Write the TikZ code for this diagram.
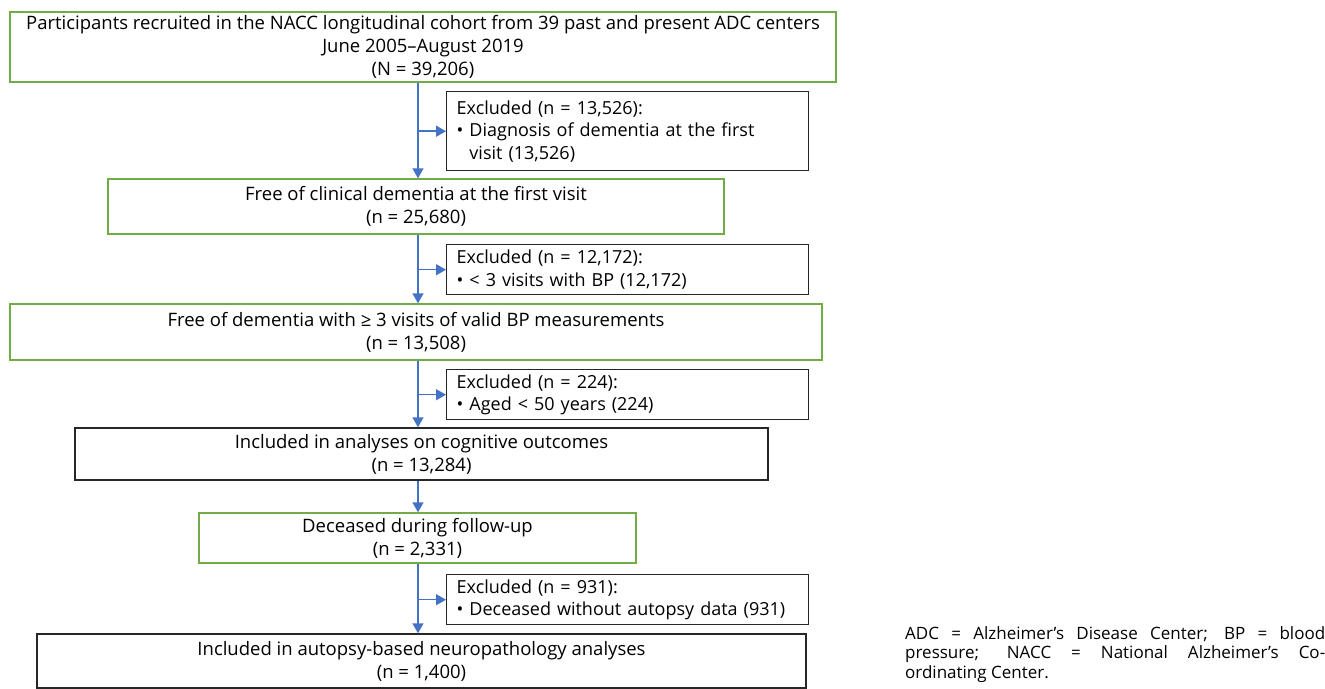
\documentclass[tikz,border=0pt]{standalone}
\usepackage{fontspec}
\setmainfont{Open Sans}
\usetikzlibrary{positioning,calc,arrows.meta}

\definecolor{boxgreen}{RGB}{112,173,71}
\definecolor{flowblue}{RGB}{68,114,196}
\definecolor{boxdark}{RGB}{38,38,38}

\begin{document}
\begin{tikzpicture}[x=1pt,y=1pt]
    \tikzstyle{every node}=[rectangle,inner sep=0,font=\fontsize{18.5}{23}\selectfont]
    \tikzstyle{stage}=[draw=boxgreen,line width=1.4,fill=white,align=center]
    \tikzstyle{kept}=[draw=boxdark,line width=1.4,fill=white,align=center]
    \tikzstyle{drop}=[draw=boxdark,line width=1.4,fill=white,align=left,anchor=north west,
                      text width=342,inner xsep=10,inner ysep=2,minimum width=362,
                      font=\fontsize{18}{22.5}\selectfont]
    \tikzstyle{flow}=[draw=flowblue,line width=1.5,-{Triangle[length=10pt,width=11pt]}]
    {
        \clip (0,0) rectangle (1325,-688);
        \useasboundingbox (0,0) rectangle (1325,-688);

        % main column
        \node[stage,minimum width=826,minimum height=70] (recruited) at (423,-47)
            {Participants recruited in the NACC longitudinal cohort from 39 past and present ADC centers\\
             June 2005--August 2019\\ (N = 39,206)};
        \node[stage,minimum width=616,minimum height=55] (freefirst) at (416,-206.5)
            {Free of clinical dementia at the first visit\\ (n = 25,680)};
        \node[stage,minimum width=812,minimum height=56] (freebp) at (416,-332)
            {Free of dementia with ≥ 3 visits of valid BP measurements\\ (n = 13,508)};
        \node[kept,minimum width=693,minimum height=52] (cognitive) at (421.5,-454)
            {Included in analyses on cognitive outcomes\\ (n = 13,284)};
        \node[stage,minimum width=437,minimum height=50] (deceased) at (417.5,-538)
            {Deceased during follow-up\\ (n = 2,331)};
        \node[kept,minimum width=769,minimum height=54] (autopsy) at (421.5,-661)
            {Included in autopsy-based neuropathology analyses\\ (n = 1,400)};

        % exclusions
        \node[drop,minimum height=79] (excl1) at (446,-91)
            {Excluded (n = 13,526):\\ • Diagnosis of dementia at the first\\ \hphantom{• }visit (13,526)};
        \node[drop,minimum height=50] (excl2) at (446,-244)
            {Excluded (n = 12,172):\\ • < 3 visits with BP (12,172)};
        \node[drop,minimum height=50] (excl3) at (446,-369)
            {Excluded (n = 224):\\ • Aged < 50 years (224)};
        \node[drop,minimum height=50] (excl4) at (446,-574)
            {Excluded (n = 931):\\ • Deceased without autopsy data (931)};

        \coordinate (spine) at (418,0);

        \path
            (recruited.south -| spine) edge[flow] (freefirst.north -| spine)
            (freefirst.south -| spine) edge[flow] (freebp.north -| spine)
            (freebp.south -| spine) edge[flow] (cognitive.north -| spine)
            (cognitive.south -| spine) edge[flow] (deceased.north -| spine)
            (deceased.south -| spine) edge[flow] (autopsy.north -| spine);

        \path
            (spine |- excl1.west) edge[flow] (excl1.west)
            (spine |- excl2.west) edge[flow] (excl2.west)
            (spine |- excl3.west) edge[flow] (excl3.west)
            (spine |- excl4.west) edge[flow] (excl4.west);

        % abbreviations
        \node[anchor=north west,text width=420,align=justify,font=\fontsize{17}{19.5}\selectfont] (abbrev) at (905,-626)
            {ADC = Alzheimer’s Disease Center; BP = blood\linebreak
             pressure; NACC = National Alzheimer’s Co-\linebreak
             ordinating Center.};
    }
\end{tikzpicture}
\end{document}
